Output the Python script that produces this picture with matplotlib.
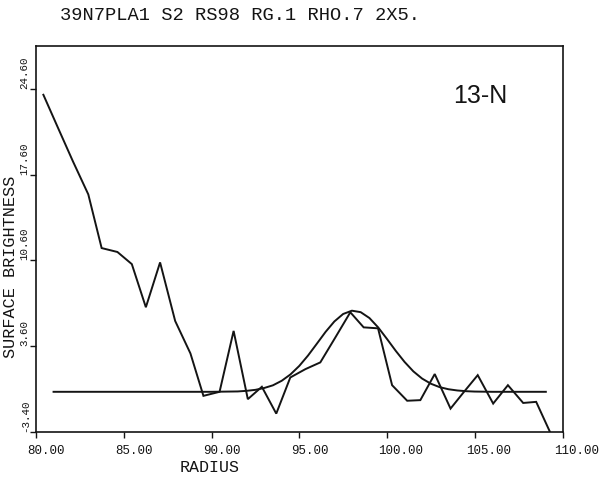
import matplotlib
matplotlib.use("Agg")
import matplotlib.pyplot as plt
import matplotlib.transforms as mtransforms

# ---- data ----
radius = [80.42, 81.26, 82.10, 82.98, 83.74, 84.64, 85.46, 86.26, 87.07, 87.93,
          88.80, 89.54, 90.46, 91.26, 92.07, 92.87, 93.69, 94.49, 95.35, 96.20,
          97.05, 97.91, 98.67, 99.49, 100.29, 101.15, 101.90, 102.72, 103.62, 104.40,
          105.17, 106.05, 106.89, 107.76, 108.50, 109.32]
brightness = [24.12, 21.40, 18.70, 15.99, 11.61, 11.29, 10.30, 6.78, 10.44, 5.66,
              3.01, -0.45, -0.12, 4.85, -0.72, 0.29, -1.90, 1.05, 1.73, 2.28,
              4.30, 6.37, 5.14, 5.06, 0.42, -0.85, -0.80, 1.33, -1.49, -0.10,
              1.24, -1.08, 0.42, -1.03, -0.94, -3.50]

fit_radius = [81.0, 83.0, 85.0, 87.0, 89.0, 90.0, 91.0, 91.5, 92.0, 92.5,
              93.0, 93.5, 94.0, 94.5, 95.0, 95.5, 96.0, 96.5, 97.0, 97.5,
              98.0, 98.5, 99.0, 99.5, 100.0, 100.5, 101.0, 101.5, 102.0, 102.5,
              103.0, 103.5, 104.0, 104.5, 105.0, 106.0, 107.0, 108.0, 109.05]
fit_brightness = [-0.12, -0.12, -0.12, -0.12, -0.12, -0.12, -0.10, -0.09, -0.04, 0.04,
                  0.19, 0.41, 0.78, 1.30, 1.99, 2.84, 3.80, 4.77, 5.62, 6.23,
                  6.50, 6.38, 5.90, 5.13, 4.19, 3.22, 2.32, 1.55, 0.96, 0.54,
                  0.26, 0.09, -0.01, -0.07, -0.10, -0.12, -0.12, -0.12, -0.12]

x_ticks = [80, 85, 90, 95, 100, 105, 110]
x_tick_labels = ["80.00", "85.00", "90.00", "95.00", "100.00", "105.00", "110.00"]
y_ticks = [-3.4, 3.6, 10.6, 17.6, 24.6]
y_tick_labels = ["-3.40", "3.60", "10.60", "17.60", "24.60"]

title_text = "39N7PLA1 S2 RS98 RG.1 RHO.7 2X5."
panel_text = "13-N"

W, H = 599, 478
fig = plt.figure(figsize=(W / 100, H / 100), dpi=100)
left, right, top, bottom = 36, 562.5, 46, 432
ax = fig.add_axes([left / W, 1 - bottom / H, (right - left) / W, (bottom - top) / H])

ink = "#141414"
mono = ["Liberation Mono", "DejaVu Sans Mono"]

ax.plot(radius, brightness, color=ink, lw=1.4, solid_joinstyle="miter")
ax.plot(fit_radius, fit_brightness, color=ink, lw=1.4)

ax.set_xlim(80, 110)
ax.set_ylim(-3.4, 28.1)

for s in ax.spines.values():
    s.set_linewidth(1.2)
    s.set_color(ink)

ax.set_xticks(x_ticks)
ax.set_xticklabels(x_tick_labels, fontfamily=mono, fontsize=9, color=ink)
ax.set_yticks(y_ticks)
ax.set_yticklabels(y_tick_labels, fontfamily=mono, fontsize=7.8, color=ink)
ax.tick_params(axis="both", direction="out", length=4, width=1.0, color=ink)
ax.tick_params(axis="x", pad=5)
ax.tick_params(axis="y", pad=0.5)

dx = mtransforms.ScaledTranslation(-8.5 / 100, 0, fig.dpi_scale_trans)
for lab in ax.get_xticklabels():
    lab.set_horizontalalignment("left")
    lab.set_transform(lab.get_transform() + dx)
for lab in ax.get_yticklabels():
    lab.set_rotation(90)
    lab.set_verticalalignment("bottom")

fig.text(240 / W, 1 - 16 / H, title_text, fontfamily=mono, fontsize=13.5,
         ha="center", va="center", color=ink)
fig.text(209.5 / W, 1 - 467 / H, "RADIUS", fontfamily=mono, fontsize=12,
         ha="center", va="center", color=ink)
fig.text(11 / W, 1 - 266.5 / H, "SURFACE BRIGHTNESS", fontfamily=mono, fontsize=12.2,
         ha="center", va="center", rotation=90, color=ink)
fig.text(453 / W, 1 - 103 / H, panel_text,
         fontfamily=["Liberation Sans Narrow", "Liberation Sans", "DejaVu Sans"],
         fontsize=18, ha="left", va="baseline", color=ink)

fig.savefig("out.png", dpi=100, facecolor="white")
